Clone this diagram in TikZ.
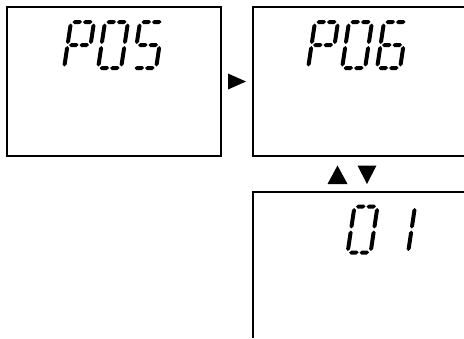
\documentclass[tikz,border=0pt]{standalone}
\usepackage{tikz}
\usetikzlibrary{positioning}
\definecolor{lcdInk}{RGB}{0,0,0}

% one tapered segment, horizontal (from x1 to x2 at y) or vertical (at x from y1 to y2)
\newcommand{\hseg}[3]{\fill[lcdInk] (#1,#3) -- ++(2,-2) -- ++({#2-#1-4},0) -- ++(2,2) -- ++(-2,2) -- ++({#1-#2+4},0) -- cycle;}
\newcommand{\vseg}[3]{\fill[lcdInk] (#1,#2) -- ++(2,2) -- ++(0,{#3-#2-4}) -- ++(-2,2) -- ++(-2,-2) -- ++(0,{#2-#3+4}) -- cycle;}
\newcommand{\lcdsegaa}{\hseg{1.5}{11}{0}}
\newcommand{\lcdsegab}{\hseg{12}{21.5}{0}}
\newcommand{\lcdsegb}{\vseg{23}{1.5}{22}}
\newcommand{\lcdsegc}{\vseg{23}{24}{44.5}}
\newcommand{\lcdsegda}{\hseg{1.5}{11}{46}}
\newcommand{\lcdsegdb}{\hseg{12}{21.5}{46}}
\newcommand{\lcdsege}{\vseg{0}{24}{44.5}}
\newcommand{\lcdsegf}{\vseg{0}{1.5}{22}}
\newcommand{\lcdsegga}{\hseg{1.5}{11}{23}}
\newcommand{\lcdseggb}{\hseg{12}{21.5}{23}}
% a slanted seven-segment character: x, y of its top left, list of segments
\newcommand{\lcdchar}[3]{\begin{scope}[shift={(#1,#2)},xslant=0.15]\foreach \s in {#3}{\csname lcdseg\s\endcsname}\end{scope}}

\begin{document}
\begin{tikzpicture}[x=1pt,y=-1pt, lcdframe/.style={line width=1.2pt, lcdInk}]
    \useasboundingbox (0,0) rectangle (464,338);
    % screens
    \draw[lcdframe] (7,7) rectangle (221,156);
    \draw[lcdframe] (464,7) -- (253,7) -- (253,156) -- (464,156);
    \draw[lcdframe] (464,192) -- (253,192) -- (253,338);
    % P05
    \lcdchar{71}{22}{aa,ab,b,f,ga,gb,e}
    \lcdchar{105}{22}{aa,ab,b,c,da,db,e,f}
    \lcdchar{140}{22}{aa,ab,f,ga,gb,c,da,db}
    % P06
    \lcdchar{315}{22}{aa,ab,b,f,ga,gb,e}
    \lcdchar{349}{22}{aa,ab,b,c,da,db,e,f}
    \lcdchar{384}{22}{aa,ab,f,e,ga,gb,c,da,db}
    % 01
    \lcdchar{354.5}{206.5}{aa,ab,b,c,da,db,e,f}
    \lcdchar{392}{206.5}{b,c}
    % keys
    \fill[lcdInk] (228,73.5) -- (246,81.5) -- (228,89.5) -- cycle;
    \fill[lcdInk] (337.5,165.5) -- (347.5,184) -- (327.5,184) -- cycle;
    \fill[lcdInk] (357.5,165.5) -- (376.5,165.5) -- (367,184) -- cycle;
  \end{tikzpicture}
\end{document}
